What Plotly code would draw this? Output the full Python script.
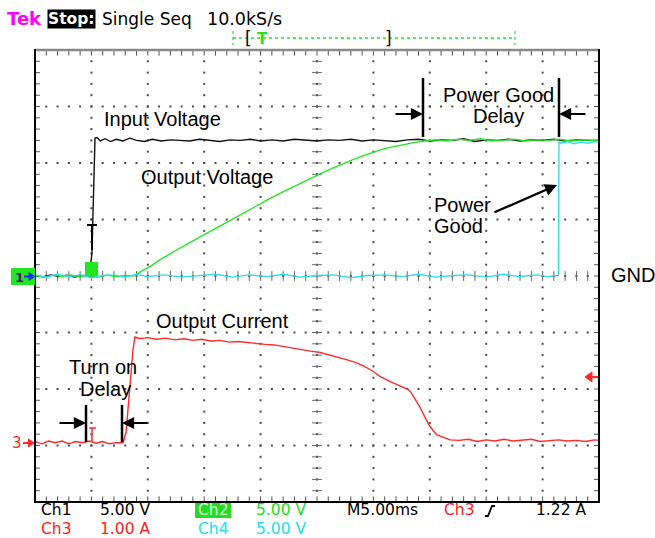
import plotly.graph_objects as go

# ---------------- data (time in ms, trigger at 0; 5 ms/div) ----------------
ch1_t = [-5.0, -4.3, -3.6, -2.9, -2.2, -1.5, -0.8, -0.2, 0.05, 0.15,
         0.25, 0.32, 0.5, 0.8, 1.2, 1.7, 2.2, 2.8, 3.4, 4.0,
         4.7, 5.4, 6.2, 7.0, 7.8, 8.7, 9.6, 10.5, 11.4, 12.3,
         13.2, 14.1, 15.0, 16.0, 17.0, 18.0, 19.0, 20.0, 21.0, 22.0,
         23.0, 24.0, 25.0, 26.0, 27.0, 28.0, 29.0, 30.0, 31.0, 32.0,
         33.0, 34.0, 35.0, 36.0, 37.0, 38.0, 39.0, 40.0, 41.0, 42.0,
         43.0, 44.0, 45.0]
ch1_v = [0.05, -0.08, 0.1, -0.05, 0.08, -0.1, 0.05, 0.0, 2.0, 6.5,
         10.5, 12.2, 12.25, 11.95, 12.15, 11.9, 12.1, 11.95, 12.2, 12.0,
         11.9, 12.1, 11.95, 12.05, 12.0, 11.95, 12.1, 12.0, 11.9, 12.05,
         12.0, 12.1, 11.95, 12.05, 11.95, 12.1, 12.0, 11.95, 12.05, 12.0,
         12.1, 11.95, 12.05, 12.0, 11.9, 12.05, 12.1, 11.95, 12.05, 12.0,
         12.15, 11.9, 12.05, 12.0, 12.1, 11.95, 12.05, 12.0, 12.1, 11.95,
         12.05, 12.0, 12.0]

ch2_t = [-5.0, -4.2, -3.4, -2.6, -1.8, -1.0, -0.2, 0.6, 1.4, 2.2, 3.0, 3.7,
         4.5, 5.3, 6.1, 7.0, 7.9, 8.8, 9.7, 10.6, 11.5, 12.4, 13.3, 14.2,
         15.1, 16.0, 16.9, 17.8, 18.7, 19.6, 20.5, 21.4, 22.3, 23.2, 24.1,
         25.0, 25.9, 26.8, 27.7, 28.6, 29.5,
         30.5, 31.5, 32.5, 33.5, 34.5, 35.5, 36.5, 37.5, 38.5, 39.5, 40.5,
         41.5, 42.5, 43.5, 44.5, 45.0]
ch2_v = [0.05, -0.1, 0.08, -0.05, 0.1, -0.08, 0.05, -0.1, 0.08, -0.05, 0.05, 0.0,
         0.45, 0.9, 1.45, 2.0, 2.5, 3.0, 3.5, 4.0, 4.5, 5.0, 5.5, 6.0,
         6.5, 6.95, 7.4, 7.85, 8.3, 8.75, 9.15, 9.55, 9.95, 10.3, 10.65,
         10.95, 11.25, 11.45, 11.65, 11.8, 11.95,
         12.05, 11.95, 12.1, 12.0, 12.15, 11.95, 12.05, 12.1, 11.95, 12.05, 12.0,
         12.1, 11.95, 12.05, 12.0, 12.0]

ch4_t = [-5.0, -4.0, -3.0, -2.0, -1.0, 0.0, 1.0, 2.0, 3.0, 4.0, 5.0,
         6.5, 8.0, 9.5, 11.0, 12.5, 14.0, 15.5, 17.0, 18.5, 20.0, 21.5, 23.0,
         24.5, 26.0, 27.5, 29.0, 30.5, 32.0, 33.5, 35.0, 36.5, 38.0, 39.5,
         40.5, 41.4, 41.45, 41.6, 42.2, 42.8, 43.4, 44.0, 44.6, 45.0]
ch4_v = [0.1, -0.1, 0.15, -0.05, 0.1, -0.15, 0.05, 0.1, -0.1, 0.15, -0.05,
         0.1, -0.1, 0.05, 0.15, -0.1, 0.1, -0.05, 0.15, -0.1, 0.05, 0.1, -0.15,
         0.05, 0.1, -0.05, 0.15, -0.1, 0.05, 0.1, -0.1, 0.15, -0.05, 0.1,
         -0.05, 0.05, 11.8, 11.75, 11.9, 11.7, 11.85, 11.75, 11.9, 11.8]

ch3_t = [-5.0, -4.4, -3.8, -3.2, -2.6, -2.0, -1.4, -0.8, -0.2, 0.4, 1.0, 1.6, 2.2, 2.8,
         3.07, 3.42, 3.69, 3.86, 4.3,
         5.0, 5.8, 6.6, 7.4, 8.2, 9.0, 9.8, 10.6, 11.4, 12.2, 13.0, 13.8, 14.6,
         15.4, 16.2, 17.0, 17.8, 18.6, 19.4, 20.2, 21.0, 21.8, 22.6, 23.4, 24.2, 25.0,
         25.6, 26.5, 27.4, 28.1, 28.3, 28.5, 29.1, 29.6, 30.0, 30.6, 31.2, 31.8,
         32.6, 33.4, 34.2, 35.0, 35.8, 36.6, 37.4, 38.2, 39.0, 39.8, 40.6, 41.4,
         42.2, 43.0, 43.8, 44.6, 45.0]
ch3_a = [0.02, -0.02, 0.03, 0.0, 0.03, -0.02, 0.02, 0.0, 0.03, -0.01, 0.02, -0.02, 0.0, 0.0,
         0.18, 1.06, 1.65, 1.87, 1.84,
         1.86, 1.83, 1.85, 1.82, 1.84, 1.81, 1.83, 1.80, 1.81, 1.78, 1.79, 1.77, 1.76,
         1.74, 1.73, 1.70, 1.68, 1.65, 1.62, 1.60, 1.56, 1.52, 1.47, 1.42, 1.35, 1.26,
         1.17, 1.08, 1.00, 0.94, 0.90, 0.84, 0.64, 0.44, 0.29, 0.14, 0.09, 0.05,
         0.04, 0.06, 0.02, 0.05, 0.03, 0.06, 0.03, 0.04, 0.06, 0.02, 0.04, 0.05,
         0.03, 0.04, 0.02, 0.05, 0.04]

# channel scales
CH1_V_PER_DIV = 5.0
CH2_V_PER_DIV = 5.0
CH4_V_PER_DIV = 5.0
CH3_A_PER_DIV = 1.0
CH3_POS_DIV = -2.95
T_MIN, T_MAX = -5.0, 45.0

# ---------------- layout geometry (pixels) ----------------
L, T, W, H = 35, 50, 564, 452


def px(x):
    return (x - L) / W


def py(y):
    return (T + H - y) / H


fig = go.Figure()

# ---- graticule ----
gx, gy = [], []
tx_c, ty_c = [], []
for i in range(1, 10):
    xm = T_MIN + 5 * i
    for k in range(-19, 20):
        gx.append(xm); gy.append(k * 0.2)
        if i == 5:
            tx_c.append(xm); ty_c.append(k * 0.2)
for j in range(-3, 4):
    for k in range(1, 50):
        gx.append(T_MIN + k); gy.append(j)
fig.add_trace(go.Scatter(x=gx, y=gy, mode="markers", hoverinfo="skip",
                         marker=dict(symbol="square", size=2, color="#4a4a4a", line_width=0)))
fig.add_trace(go.Scatter(x=tx_c, y=ty_c, mode="markers", hoverinfo="skip",
                         marker=dict(symbol="line-ew", size=7, line=dict(width=1, color="#666"))))
hx = [T_MIN + k for k in range(1, 50)]
fig.add_trace(go.Scatter(x=hx, y=[0] * len(hx), mode="markers", hoverinfo="skip",
                         marker=dict(symbol="line-ns", size=7, line=dict(width=1, color="#666"))))
# border ticks
bx = hx + hx
by = [4] * len(hx) + [-4] * len(hx)
fig.add_trace(go.Scatter(x=bx, y=by, mode="markers", hoverinfo="skip",
                         marker=dict(symbol="line-ns", size=8, line=dict(width=1, color="#555"))))
vy = [k * 0.2 for k in range(-19, 20)]
fig.add_trace(go.Scatter(x=[T_MIN] * len(vy) + [T_MAX] * len(vy), y=vy + vy, mode="markers",
                         hoverinfo="skip",
                         marker=dict(symbol="line-ew", size=7, line=dict(width=1, color="#555"))))

# ---- waveforms ----
fig.add_trace(go.Scatter(x=ch1_t, y=[v / CH1_V_PER_DIV for v in ch1_v], mode="lines",
                         line=dict(color="#111111", width=1.4), name="Ch1"))
fig.add_trace(go.Scatter(x=ch2_t, y=[v / CH2_V_PER_DIV for v in ch2_v], mode="lines",
                         line=dict(color="#22e622", width=1.4), name="Ch2"))
fig.add_trace(go.Scatter(x=ch4_t, y=[v / CH4_V_PER_DIV for v in ch4_v], mode="lines",
                         line=dict(color="#2fe0ea", width=1.4), name="Ch4"))
fig.add_trace(go.Scatter(x=ch3_t, y=[a / CH3_A_PER_DIV + CH3_POS_DIV for a in ch3_a], mode="lines",
                         line=dict(color="#ff2a2a", width=1.4), name="Ch3"))

shapes = []


def pline(x0, y0, x1, y1, color="black", width=2, dash=None):
    d = dict(type="line", xref="paper", yref="paper", x0=px(x0), y0=py(y0), x1=px(x1), y1=py(y1),
             line=dict(color=color, width=width))
    if dash:
        d["line"]["dash"] = dash
    shapes.append(d)


def prect(x0, y0, x1, y1, fill):
    shapes.append(dict(type="rect", xref="paper", yref="paper", x0=px(x0), y0=py(y1), x1=px(x1), y1=py(y0),
                       fillcolor=fill, line=dict(width=0), layer="above"))


def ppath(pts, color, fill=None, width=1.5):
    s = "M " + " L ".join(f"{px(a):.5f},{py(b):.5f}" for a, b in pts)
    d = dict(type="path", xref="paper", yref="paper", path=s + (" Z" if fill else ""),
             line=dict(color=color, width=width))
    if fill:
        d["fillcolor"] = fill
    shapes.append(d)


# frame
pline(35, 50, 599, 50, "#8a8a8a", 2.5)
pline(35, 49, 35, 503, "black", 2)
pline(599, 49, 599, 503, "black", 2)
pline(35, 502, 599, 502, "black", 2)

# top record bar
pline(233, 38, 515, 38, "#22e622", 1.5, "dot")
pline(233, 31, 233, 45, "#22e622", 1.2, "dot")
pline(515, 31, 515, 45, "#22e622", 1.2, "dot")

# markers on traces
pline(87, 225, 97, 225, "black", 2)
pline(92, 225, 92, 250, "black", 2)
prect(85, 262, 98, 276, "#22e622")
pline(89, 428, 96, 428, "#ff2a2a", 1.5)
pline(92, 428, 92, 442, "#ff2a2a", 1.5)

# left channel markers
prect(11, 268, 35, 285, "#22e622")
ppath([(24, 276.5), (34, 276.5)], "#1a2cff", None, 2)
ppath([(29, 272.5), (34.5, 276.5), (29, 280.5)], "#1a2cff", "#1a2cff", 1)
ppath([(23, 443), (33, 443)], "#ff2a2a", None, 2)
ppath([(28.5, 439), (34, 443), (28.5, 447)], "#ff2a2a", "#ff2a2a", 1)
# trigger level arrow (right)
ppath([(585, 377), (592, 372), (592, 382)], "#ff2a2a", "#ff2a2a", 1)
pline(590, 377, 598, 377, "#ff2a2a", 2)

# delay bars
pline(423, 78, 423, 137, "black", 2.5)
pline(559, 78, 559, 137, "black", 2.5)
pline(86, 405, 86, 442, "black", 2.5)
pline(122, 405, 122, 442, "black", 2.5)

# trigger-edge symbol
ppath([(485, 516), (488, 516), (492, 506), (495, 506)], "black", None, 1.8)

anns = []
LBL = "Liberation Sans, Arial, sans-serif"
SCP = "DejaVu Sans, sans-serif"


def txt(x, y, s, size=20, color="black", font=LBL, xa="left", ya="middle", bg=None):
    a = dict(xref="paper", yref="paper", x=px(x), y=py(y), text=s, showarrow=False,
             xanchor=xa, yanchor=ya, font=dict(family=font, size=size, color=color))
    if bg:
        a["bgcolor"] = bg
    a["borderpad"] = 0
    anns.append(a)


def arrow(xh, yh, dx, dy):
    anns.append(dict(xref="paper", yref="paper", x=px(xh), y=py(yh), ax=dx, ay=dy, text="",
                     showarrow=True, arrowhead=2, arrowsize=1.1, arrowwidth=2.2, arrowcolor="black",
                     standoff=0, startstandoff=0))


# top status line
txt(6, 19, "<b>Tek</b>", 18, "#ff00ff", SCP)
txt(47, 19, "<b>Stop:</b>", 15.5, "white", SCP, bg="black")
txt(101, 19, "Single Seq", 17, "black", SCP)
txt(206, 19, "10.0kS/s", 17.5, "black", SCP)
txt(244, 38, "[", 17, "black", SCP)
txt(256, 39, "<b>T</b>", 15, "#22e622", SCP)
txt(384, 38, "]", 17, "black", SCP)

# bottom readout
R1, R2 = 510, 528.5
prect(195, 503, 231, 518, "#22dd22")
txt(40, R1, "Ch1", 15.5, "black", SCP)
txt(99, R1, "5.00 V", 15.5, "black", SCP)
txt(197, R1, "Ch2", 15.5, "#d8ffd8", SCP)
txt(255, R1, "5.00 V", 15.5, "#22dd22", SCP)
txt(346, R1, "M5.00ms", 15.5, "black", SCP)
txt(443, R1, "Ch3", 15.5, "#ff2020", SCP)
txt(535, R1, "1.22 A", 15.5, "black", SCP)
txt(40, R2, "Ch3", 15.5, "#ff2020", SCP)
txt(99, R2, "1.00 A", 15.5, "#ff2020", SCP)
txt(197, R2, "Ch4", 15.5, "#22dde8", SCP)
txt(255, R2, "5.00 V", 15.5, "#22dde8", SCP)

# channel labels
txt(14, 277, "<b>1</b>", 13, "#5a1070", SCP)
txt(11, 443, "3", 15, "#ff2020", SCP)

# annotations
txt(103, 119, "Input Voltage")
txt(140, 177, "Output Voltage")
txt(498, 95, "Power Good", xa="center")
txt(498, 116, "Delay", xa="center")
txt(433, 205, "Power")
txt(433, 226, "Good")
txt(155, 321, "Output Current")
txt(103, 367, "Turn on", xa="center")
txt(105, 389, "Delay", xa="center")
txt(610, 275, "GND")

arrow(423, 114, -29, 0)
arrow(559, 114, 28, 0)
arrow(86, 423, -28, 0)
arrow(122, 423, 27, 0)
arrow(557, 185, -64, 28)

fig.update_layout(
    width=655, height=538,
    margin=dict(l=L, r=655 - L - W, t=T, b=538 - T - H),
    paper_bgcolor="white", plot_bgcolor="white",
    showlegend=False,
    xaxis=dict(range=[T_MIN, T_MAX], showgrid=False, zeroline=False, showticklabels=False,
               ticks="", showline=False, fixedrange=True),
    yaxis=dict(range=[-4, 4], showgrid=False, zeroline=False, showticklabels=False,
               ticks="", showline=False, fixedrange=True),
    shapes=shapes,
    annotations=anns,
)

fig.write_html("out.html", config={"displayModeBar": False},
               post_script="document.body.style.margin='0px';document.body.style.overflow='hidden';")
